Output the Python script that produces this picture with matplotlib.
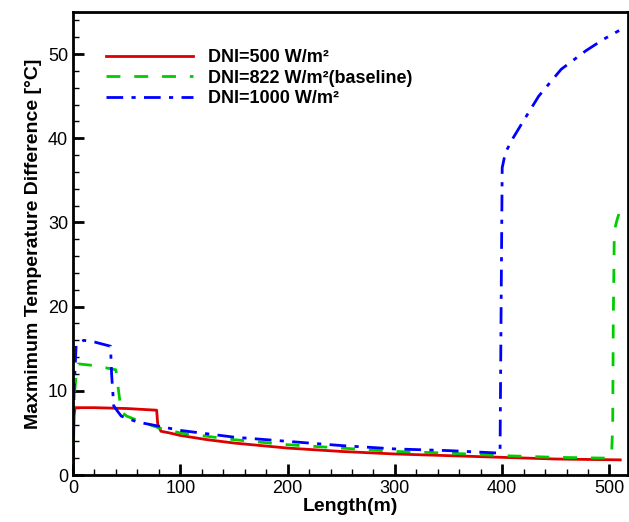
import numpy as np
import matplotlib.pyplot as plt
from matplotlib.ticker import MultipleLocator

plt.rcParams['font.family'] = ['Liberation Sans', 'DejaVu Sans']

# DNI = 500 W/m2
x500 = [0, 1, 2, 20, 50, 78, 79, 82, 90, 100, 125, 150, 200, 250, 300, 350, 400, 450, 510]
y500 = [0, 7.0, 8.0, 8.0, 7.9, 7.7, 6.0, 5.2, 5.0, 4.7, 4.2, 3.8, 3.2, 2.8, 2.5, 2.3, 2.1, 1.9, 1.8]

# DNI = 822 W/m2 (baseline)
x822 = [0, 1, 3, 5, 20, 40, 42, 45, 50, 60, 80, 100, 125, 150, 200, 250, 300, 350, 400, 450, 500,
        502, 503, 503.5, 504.5, 507, 509.5]
y822 = [0, 9.0, 12.0, 13.2, 13.0, 12.5, 10.5, 7.5, 7.0, 6.5, 5.6, 5.0, 4.6, 4.2, 3.6, 3.2, 2.8, 2.6,
        2.3, 2.1, 2.0, 2.6, 6.0, 18.0, 29.0, 30.3, 31.3]

# DNI = 1000 W/m2
x1000 = [0, 1, 3, 10, 20, 35, 36, 38, 42, 45, 60, 80, 100, 125, 150, 200, 250, 300, 350, 398,
         399, 400, 403, 410, 419, 434, 455, 478, 495, 509]
y1000 = [0, 10.0, 15.5, 16.0, 15.8, 15.3, 12.0, 8.2, 7.5, 7.0, 6.3, 5.8, 5.3, 4.9, 4.5, 4.0, 3.5,
         3.1, 2.9, 2.6, 20.0, 36.5, 38.3, 40.0, 41.9, 45.0, 48.2, 50.4, 51.8, 52.8]

fig = plt.figure(figsize=(6.29, 5.22), dpi=100)
ax = fig.add_axes([0.116, 0.09, 0.882, 0.887])

ax.plot(x500, y500, color='#dd0000', lw=2.0, label='DNI=500 W/m²')
ax.plot(x822, y822, color='#00cc00', lw=2.0, dashes=(5, 5), label='DNI=822 W/m²(baseline)')
ax.plot(x1000, y1000, color='#0000ff', lw=2.0, dashes=(6, 3, 1.5, 3), label='DNI=1000 W/m²')

ax.set_xlim(0, 517)
ax.set_ylim(0, 55)
ax.xaxis.set_major_locator(MultipleLocator(100))
ax.xaxis.set_minor_locator(MultipleLocator(20))
ax.yaxis.set_major_locator(MultipleLocator(10))
ax.yaxis.set_minor_locator(MultipleLocator(2))
ax.tick_params(which='major', direction='in', length=8, width=2, labelsize=13)
ax.tick_params(which='minor', direction='in', length=4, width=1)
for s in ax.spines.values():
    s.set_linewidth(2)

ax.set_xlabel('Length(m)', fontsize=14, fontweight='bold', labelpad=1)
ax.set_ylabel('Maxmimum Temperature Difference [°C]', fontsize=14, fontweight='bold', labelpad=4)

leg = ax.legend(loc='upper left', bbox_to_anchor=(0.03, 0.955), frameon=False, handlelength=4.85,
                prop={'weight': 'bold', 'size': 13}, labelspacing=0.2)

fig.savefig('out.png', dpi=100)
